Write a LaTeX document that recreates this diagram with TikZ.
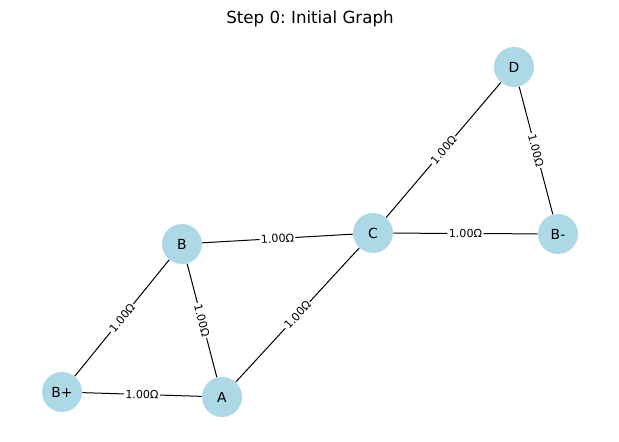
\documentclass[tikz,border=0pt]{standalone}
\usepackage{fontspec}
\setmainfont{DejaVu Sans}
\usetikzlibrary{backgrounds}
\definecolor{lblue}{RGB}{173,216,230}
\frenchspacing
\begin{document}
\begin{tikzpicture}[x=0.72pt,y=-0.72pt,
  vert/.style={circle,fill=lblue,minimum size=28.8pt,inner sep=0pt,font=\fontsize{10}{12}\selectfont},
  wire/.style={draw=black,line width=0.72pt},
  elab/.style={midway,sloped,fill=white,inner sep=1pt,font=\fontsize{8}{9}\selectfont}]
\useasboundingbox (0,0) rectangle (619,442);
\node[font=\fontsize{12}{14}\selectfont] (title) at (310,19) {Step 0: Initial Graph};
\node[vert] (D) at (514,67) {D};
\node[vert] (Bm) at (558,234) {B-};
\node[vert] (C) at (373,233) {C};
\node[vert] (B) at (182,244) {B};
\node[vert] (Bp) at (62,392) {B+};
\node[vert] (A) at (222,397) {A};
\begin{scope}[on background layer]
\draw[wire] (C) -- node[elab] {1.00Ω} (D);
\draw[wire] (D) -- node[elab] {1.00Ω} (Bm);
\draw[wire] (C) -- node[elab] {1.00Ω} (Bm);
\draw[wire] (B) -- node[elab] {1.00Ω} (C);
\draw[wire] (A) -- node[elab] {1.00Ω} (C);
\draw[wire] (B) -- node[elab] {1.00Ω} (A);
\draw[wire] (Bp) -- node[elab] {1.00Ω} (B);
\draw[wire] (Bp) -- node[elab] {1.00Ω} (A);
\end{scope}
\end{tikzpicture}
\end{document}
